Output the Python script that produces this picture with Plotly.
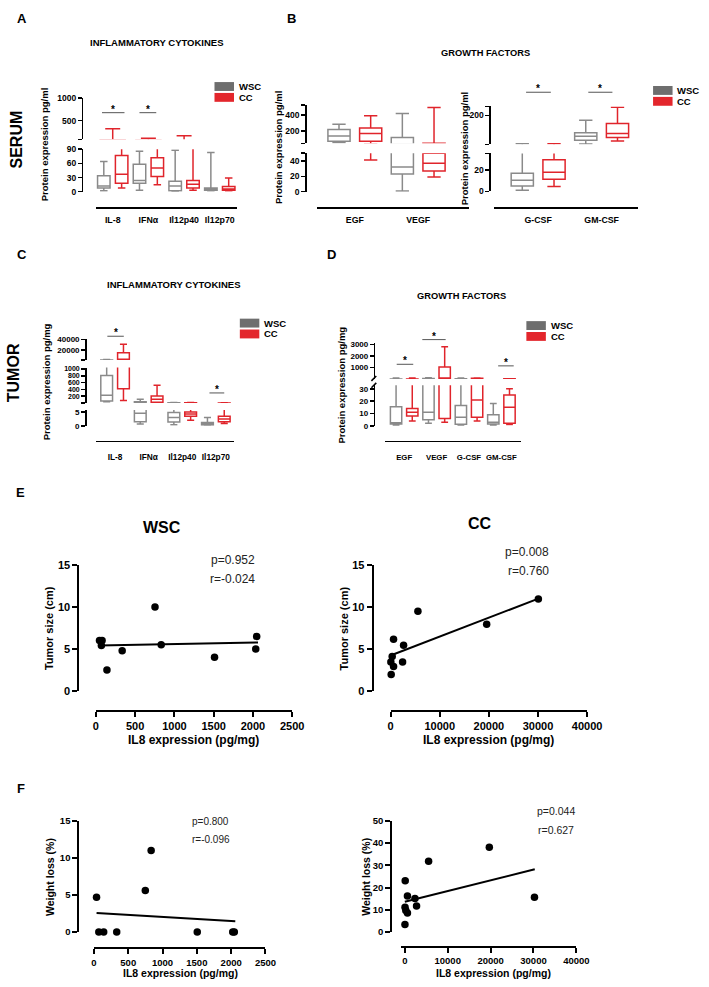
import plotly.graph_objects as go

# ==========================================
# DATA
# ==========================================

CYTOKINES = ["IL-8", "IFNα", "Il12p40", "Il12p70"]
GF_SERUM_LEFT = ["EGF", "VEGF"]
GF_SERUM_RIGHT = ["G-CSF", "GM-CSF"]
GROWTH_FACTORS = ["EGF", "VEGF", "G-CSF", "GM-CSF"]

# A - serum cytokines (pg/ml): whisker low, q1, median, q3, whisker high
A_WSC_LOW = [2, 3, 1, 2]
A_WSC_Q1 = [8, 18, 2, 3]
A_WSC_MED = [12, 24, 12, 5]
A_WSC_Q3 = [34, 58, 22, 8]
A_WSC_HIGH = [64, 86, 88, 83]
A_CC_LOW = [8, 15, 3, 2]
A_CC_Q1 = [18, 32, 8, 3]
A_CC_MED = [37, 50, 16, 6]
A_CC_Q3 = [77, 72, 24, 11]
A_CC_HIGH = [320, 115, 170, 29]

# B - serum growth factors (pg/ml)
B1_WSC_LOW = [55, 1]
B1_WSC_Q1 = [75, 23]
B1_WSC_MED = [140, 32]
B1_WSC_Q3 = [220, 121]
B1_WSC_HIGH = [285, 416]
B1_CC_LOW = [41, 19]
B1_CC_Q1 = [75, 27]
B1_CC_MED = [170, 37]
B1_CC_Q3 = [237, 49.8]
B1_CC_HIGH = [390, 490]

B2_WSC_LOW = [1, 42]
B2_WSC_Q1 = [5, 62]
B2_WSC_MED = [10.5, 85]
B2_WSC_Q3 = [17, 104]
B2_WSC_HIGH = [43, 173]
B2_CC_LOW = [4.6, 58]
B2_CC_Q1 = [11.4, 77]
B2_CC_MED = [18, 100]
B2_CC_Q3 = [29.5, 155]
B2_CC_HIGH = [43, 245]

# C - tumor cytokines (pg/mg)
C_WSC_LOW = [40, 0.7, 0.4, 0.1]
C_WSC_Q1 = [60, 1.5, 1.4, 0.3]
C_WSC_MED = [230, 4.5, 3, 0.6]
C_WSC_Q3 = [810, 40, 4.8, 1.2]
C_WSC_HIGH = [2200, 110, 12, 3]
C_CC_LOW = [75, 8, 2, 0.8]
C_CC_Q1 = [420, 20, 3.5, 1.5]
C_CC_MED = [2500, 110, 4.3, 2.5]
C_CC_Q3 = [15000, 210, 5, 3.5]
C_CC_HIGH = [31000, 520, 12, 10]

# D - tumor growth factors (pg/mg)
D_WSC_LOW = [0.5, 2, 0.5, 0.5]
D_WSC_Q1 = [1.5, 5, 1.3, 1.5]
D_WSC_MED = [2.5, 11, 7, 3]
D_WSC_Q3 = [15.5, 50, 16.5, 9]
D_WSC_HIGH = [90, 120, 90, 18]
D_CC_LOW = [4, 3, 4, 1]
D_CC_Q1 = [8, 6, 7, 2]
D_CC_MED = [11, 40, 21, 15]
D_CC_Q3 = [14, 1050, 60, 25]
D_CC_HIGH = [90, 2800, 100, 30]

# E - tumor size vs IL8
E_WSC_IL8 = [46, 79, 70, 141, 335, 753, 832, 1511, 2048, 2036]
E_WSC_SIZE = [6.0, 6.0, 5.4, 2.5, 4.8, 10.0, 5.5, 4.0, 6.5, 5.0]
E_WSC_FIT_X = [37, 2065]
E_WSC_FIT_Y = [5.42, 5.77]
E_CC_IL8 = [600, 320, 50, 600, 120, 2440, 2640, 5560, 19560, 30080]
E_CC_SIZE = [6.15, 4.1, 3.45, 2.9, 1.96, 3.45, 5.45, 9.5, 7.95, 10.97]
E_CC_FIT_X = [120, 30080]
E_CC_FIT_Y = [4.25, 11.0]

# F - weight loss vs IL8
F_WSC_IL8 = [38, 71, 142, 332, 749, 834, 1506, 2023, 2046]
F_WSC_LOSS = [4.7, 0, 0, 0, 5.6, 11.0, 0, 0, 0]
F_WSC_FIT_X = [38, 2060]
F_WSC_FIT_Y = [2.54, 1.43]
F_CC_IL8 = [90, 610, 50, 230, 610, 30, 2360, 2730, 5540, 19700, 30230]
F_CC_LOSS = [23.0, 16.2, 11.1, 9.6, 8.5, 3.3, 15.1, 11.7, 31.9, 38.1, 15.6]
F_CC_FIT_X = [0, 30300]
F_CC_FIT_Y = [13.6, 28.2]

# ==========================================
# HELPERS
# ==========================================

W, H = 709, 987
FONT = "Liberation Sans, Arial, sans-serif"
GRAY = "#8a8a8a"
RED = "#e0242b"

fig = go.Figure()
axes = {}


def px2x(p):
    return p / W


def px2y(p):
    return 1 - p / H


def tfont(size, bold=True):
    return dict(family=FONT, size=size, color="black",
                weight="bold" if bold else "normal")


def y_axis(name, top, bottom, rng, vals, texts, pos, size=8.5, lw=1.5, tl=4):
    axes[name] = dict(
        domain=[px2y(bottom), px2y(top)], range=rng,
        anchor="free", position=px2x(pos),
        showline=True, linecolor="black", linewidth=lw,
        ticks="outside", ticklen=tl, tickwidth=lw, tickcolor="black",
        tickvals=vals, ticktext=texts,
        showgrid=False, zeroline=False, tickfont=tfont(size)
    )
    return rng


def cat_axis(name, left, right, rng, pos, cats, standoff=3, size=8.8):
    axes[name] = dict(
        domain=[px2x(left), px2x(right)], range=rng, type="category",
        categoryorder="array", categoryarray=cats,
        anchor="free", position=px2y(pos),
        showline=True, linecolor="black", linewidth=1.5, ticks="",
        showgrid=False, zeroline=False, tickfont=tfont(size),
        tickangle=0, ticklabelstandoff=standoff
    )


def num_x_axis(name, left, right, rng, vals, pos, size, lw=2):
    axes[name] = dict(
        domain=[px2x(left), px2x(right)], range=rng,
        anchor="free", position=px2y(pos),
        showline=True, linecolor="black", linewidth=lw,
        ticks="outside", ticklen=5, tickwidth=lw, tickcolor="black",
        tickvals=vals, ticktext=[str(v) for v in vals], tickangle=0,
        showgrid=False, zeroline=False, tickfont=tfont(size)
    )


def add_boxes(xa, segs, cats, wsc, cc):
    # each segment of a broken axis gets its own copy of the boxes,
    # leaving out boxes that do not reach into that segment
    for ya, (lo, hi) in segs:
        eps = (hi - lo) * 0.005
        for stats, color, group in [(wsc, GRAY, "WSC"), (cc, RED, "CC")]:
            low, q1, med, q3, high = stats
            keep = [i for i in range(len(cats))
                    if high[i] >= lo + eps and low[i] <= hi - eps]
            if not keep:
                continue

            def pick(arr):
                return [arr[i] for i in keep]

            fig.add_trace(go.Box(
                x=pick(cats), q1=pick(q1), median=pick(med), q3=pick(q3),
                lowerfence=pick(low), upperfence=pick(high),
                xaxis=xa, yaxis=ya,
                offsetgroup=group, alignmentgroup=xa + ya,
                line=dict(color=color, width=1.5),
                fillcolor="rgba(0,0,0,0)",
                whiskerwidth=0.6, boxpoints=False,
                showlegend=False, hoverinfo="skip"
            ))


def label(x, y, text, size, bold=True, angle=0, xanchor="center", color="black"):
    fig.add_annotation(
        x=px2x(x), y=px2y(y), xref="paper", yref="paper",
        text=text, showarrow=False, textangle=angle,
        xanchor=xanchor, yanchor="middle",
        font=dict(family=FONT, size=size, color=color,
                  weight="bold" if bold else "normal")
    )


def sig(xref, i, y, left=0.25, right=0.25):
    fig.add_shape(type="line", xref=xref, yref="paper",
                  x0=i - left, x1=i + right, y0=px2y(y), y1=px2y(y),
                  line=dict(color="#555555", width=1))
    fig.add_annotation(x=i + (right - left) / 2, xref=xref, y=px2y(y + 4),
                       yref="paper", yanchor="bottom", text="*",
                       showarrow=False, font=tfont(10))


def legend(x, y):
    for dy, color, name in [(0, "#6e6e6e", "WSC"), (11, "#e3262c", "CC")]:
        fig.add_shape(type="rect", xref="paper", yref="paper",
                      x0=px2x(x), x1=px2x(x + 20),
                      y0=px2y(y + dy + 9), y1=px2y(y + dy),
                      fillcolor=color, line=dict(width=0))
        label(x + 23, y + dy + 4.5, name, 9.5, xanchor="left")


def scatter(xa, ya, xs, ys, fx, fy):
    fig.add_trace(go.Scatter(
        x=xs, y=ys, xaxis=xa, yaxis=ya, mode="markers",
        marker=dict(color="black", size=7.5), cliponaxis=False,
        showlegend=False, hoverinfo="skip"
    ))
    fig.add_trace(go.Scatter(
        x=fx, y=fy, xaxis=xa, yaxis=ya, mode="lines",
        line=dict(color="black", width=2), cliponaxis=False,
        showlegend=False, hoverinfo="skip"
    ))


# ==========================================
# A - SERUM INFLAMMATORY CYTOKINES
# ==========================================

cat_axis("xaxis", 95, 240, [-0.48, 3.48], 203.5, CYTOKINES, standoff=4)
ra1 = y_axis("yaxis", 93, 135, [90, 1000], [90, 500, 1000], ["", "500", "1000"], 81)
ra2 = y_axis("yaxis2", 145, 188, [0, 90], [0, 30, 60, 90], ["0", "30", "60", "90"], 81)
add_boxes("x", [("y", ra1), ("y2", ra2)], CYTOKINES,
          [A_WSC_LOW, A_WSC_Q1, A_WSC_MED, A_WSC_Q3, A_WSC_HIGH],
          [A_CC_LOW, A_CC_Q1, A_CC_MED, A_CC_Q3, A_CC_HIGH])
sig("x", 0, 108, 0.3, 0.33)
sig("x", 1, 108, 0.25, 0.22)
legend(217, 77)
label(19, 12.5, "A", 13)
label(158, 37, "INFLAMMATORY CYTOKINES", 9.5)
label(13.5, 135, "SERUM", 16, angle=-90)
label(42, 140, "Protein expression pg/ml", 9.5, angle=-90)

# ==========================================
# B - SERUM GROWTH FACTORS
# ==========================================

cat_axis("xaxis2", 322, 478, [-0.6, 1.8], 203.5, GF_SERUM_LEFT, standoff=4)
rb1 = y_axis("yaxis3", 100, 139, [49.5, 525], [49.5, 200, 400, 525], ["", "200", "400", ""], 310)
rb2 = y_axis("yaxis4", 149, 188, [0, 50], [0, 20, 40, 50], ["0", "20", "40", ""], 310)
add_boxes("x2", [("y3", rb1), ("y4", rb2)], GF_SERUM_LEFT,
          [B1_WSC_LOW, B1_WSC_Q1, B1_WSC_MED, B1_WSC_Q3, B1_WSC_HIGH],
          [B1_CC_LOW, B1_CC_Q1, B1_CC_MED, B1_CC_Q3, B1_CC_HIGH])

cat_axis("xaxis3", 503.5, 652, [-0.7, 1.58], 203.5, GF_SERUM_RIGHT, standoff=4)
rb3 = y_axis("yaxis5", 101.7, 140, [40, 249], [40, 200, 249], ["", "200", ""], 499)
rb4 = y_axis("yaxis6", 149.3, 187.7, [0, 35.4], [0, 20, 35.4], ["0", "20", ""], 499)
add_boxes("x3", [("y5", rb3), ("y6", rb4)], GF_SERUM_RIGHT,
          [B2_WSC_LOW, B2_WSC_Q1, B2_WSC_MED, B2_WSC_Q3, B2_WSC_HIGH],
          [B2_CC_LOW, B2_CC_Q1, B2_CC_MED, B2_CC_Q3, B2_CC_HIGH])
sig("x3", 0, 87.3, 0.19, 0.2)
sig("x3", 1, 87.3, 0.21, 0.17)
legend(667, 81)
label(296, 12.5, "B", 13)
label(495, 48, "GROWTH FACTORS", 9.3)
label(282, 143, "Protein expression pg/ml", 9.5, angle=-90)
label(473, 144, "Protein expression pg/ml", 9.5, angle=-90)

# ==========================================
# C - TUMOR INFLAMMATORY CYTOKINES
# ==========================================

cat_axis("xaxis4", 95, 237, [-0.58, 3.54], 440, CYTOKINES, standoff=8, size=8.3)
rc1 = y_axis("yaxis7", 336.7, 358.3, [1130, 41900], [1130, 20000, 40000],
             ["", "20000", "40000"], 84.3, size=8)
rc2 = y_axis("yaxis8", 366, 401.9, [0, 1044], [0, 200, 400, 600, 800, 1000],
             ["", "200", "400", "600", "800", "1000"], 84.3, size=7)
rc3 = y_axis("yaxis9", 409, 425, [0, 5.7], [0, 5], ["0", "5"], 84.3, size=8)
add_boxes("x4", [("y7", rc1), ("y8", rc2), ("y9", rc3)], CYTOKINES,
          [C_WSC_LOW, C_WSC_Q1, C_WSC_MED, C_WSC_Q3, C_WSC_HIGH],
          [C_CC_LOW, C_CC_Q1, C_CC_MED, C_CC_Q3, C_CC_HIGH])
sig("x4", 0, 334.3, 0.23, 0.26)
sig("x4", 3, 391.7, 0.19, 0.25)
legend(243, 316.5)
label(19, 252, "C", 13)
label(175, 282, "INFLAMMATORY CYTOKINES", 9.5)
label(11, 371, "TUMOR", 16, angle=-90)
label(45, 380, "Protein expression pg/mg", 9.5, angle=-90)

# ==========================================
# D - TUMOR GROWTH FACTORS
# ==========================================

cat_axis("xaxis5", 392, 531, [-0.59, 3.59], 440, GROWTH_FACTORS, standoff=8, size=7.8)
rd1 = y_axis("yaxis10", 340.7, 377.5, [13, 3172], [1000, 2000, 3000],
             ["1000", "2000", "3000"], 380.5, size=8)
rd2 = y_axis("yaxis11", 384, 425, [0, 32.8], [0, 10, 20, 30],
             ["0", "10", "20", "30"], 380.5, size=8)
add_boxes("x5", [("y10", rd1), ("y11", rd2)], GROWTH_FACTORS,
          [D_WSC_LOW, D_WSC_Q1, D_WSC_MED, D_WSC_Q3, D_WSC_HIGH],
          [D_CC_LOW, D_CC_Q1, D_CC_MED, D_CC_Q3, D_CC_HIGH])
sig("x5", 0, 362.7, 0.23, 0.28)
sig("x5", 1, 337.7, 0.44, 0.28)
sig("x5", 3, 364.3, 0.1, 0.38)
for y0 in [379.5, 386.5]:
    fig.add_shape(type="line", xref="paper", yref="paper",
                  x0=px2x(378), x1=px2x(383), y0=px2y(y0), y1=px2y(y0 - 5),
                  line=dict(color="black", width=1.5))
legend(537, 319)
label(337, 252, "D", 13)
label(470, 294, "GROWTH FACTORS", 9.3)
label(347, 384, "Protein expression pg/mg", 9.5, angle=-90)

# ==========================================
# E - TUMOR SIZE
# ==========================================

num_x_axis("xaxis6", 95.3, 296.7, [0, 2500], [0, 500, 1000, 1500, 2000, 2500], 713.3, 11)
y_axis("yaxis12", 566, 693.3, [0, 15], [0, 5, 10, 15], ["0", "5", "10", "15"], 77.3,
       size=11, lw=2, tl=5)
scatter("x6", "y12", E_WSC_IL8, E_WSC_SIZE, E_WSC_FIT_X, E_WSC_FIT_Y)

num_x_axis("xaxis7", 397.7, 599.3, [0, 40000], [0, 10000, 20000, 30000, 40000], 713.3, 11)
y_axis("yaxis13", 566, 693.3, [0, 15], [0, 5, 10, 15], ["0", "5", "10", "15"], 379.3,
       size=11, lw=2, tl=5)
scatter("x7", "y13", E_CC_IL8, E_CC_SIZE, E_CC_FIT_X, E_CC_FIT_Y)

label(18, 492, "E", 13)
label(163, 528, "WSC", 16)
label(489, 524, "CC", 16)
label(48, 630, "Tumor size (cm)", 11, angle=-90)
label(350, 630, "Tumor size (cm)", 11, angle=-90)
label(195, 743, "IL8 expression (pg/mg)", 12)
label(498, 743, "IL8 expression (pg/mg)", 12)
label(261, 561, "p=0.952", 12, bold=False, xanchor="right", color="#222")
label(261, 580, "r=-0.024", 12, bold=False, xanchor="right", color="#222")
label(562, 553, "p=0.008", 12, bold=False, xanchor="right", color="#222")
label(562, 572, "r=0.760", 12, bold=False, xanchor="right", color="#222")

# ==========================================
# F - WEIGHT LOSS
# ==========================================

num_x_axis("xaxis8", 93.3, 269.3, [0, 2500], [0, 500, 1000, 1500, 2000, 2500], 954, 9.5)
y_axis("yaxis14", 825, 937.3, [0, 15], [0, 5, 10, 15], ["0", "5", "10", "15"], 77.3,
       size=9.5, lw=2, tl=5)
scatter("x8", "y14", F_WSC_IL8, F_WSC_LOSS, F_WSC_FIT_X, F_WSC_FIT_Y)

num_x_axis("xaxis9", 407.9, 588.3, [-1000, 40000], [0, 10000, 20000, 30000, 40000], 952.3, 9.5)
y_axis("yaxis15", 825, 937.3, [0, 50], [0, 10, 20, 30, 40, 50],
       ["0", "10", "20", "30", "40", "50"], 398.3, size=9.5, lw=2, tl=5)
scatter("x9", "y15", F_CC_IL8, F_CC_LOSS, F_CC_FIT_X, F_CC_FIT_Y)

label(18, 792, "F", 13)
label(48, 882, "Weight loss (%)", 10.5, angle=-90)
label(373, 882, "Weight loss (%)", 10.5, angle=-90)
label(182, 979, "IL8 expression (pg/mg)", 10.5)
label(503, 979, "IL8 expression (pg/mg)", 10.5)
label(213, 826, "p=0.800", 10, bold=False, color="#222")
label(213, 844, "r=-0.096", 10, bold=False, color="#222")
label(567, 815, "p=0.044", 10.5, bold=False, color="#222")
label(567, 834, "r=0.627", 10.5, bold=False, color="#222")

# ==========================================
# LAYOUT
# ==========================================

fig.update_layout(
    width=W, height=H,
    margin=dict(l=0, r=0, t=0, b=0),
    paper_bgcolor="white", plot_bgcolor="white",
    showlegend=False,
    boxmode="group", boxgap=0.0, boxgroupgap=0.3,
    font=dict(family=FONT, color="black"),
    **axes
)

fig.write_html(
    "out.html",
    config={"displayModeBar": False, "staticPlot": True},
    post_script="document.body.style.margin='0';document.body.style.overflow='hidden';"
)
